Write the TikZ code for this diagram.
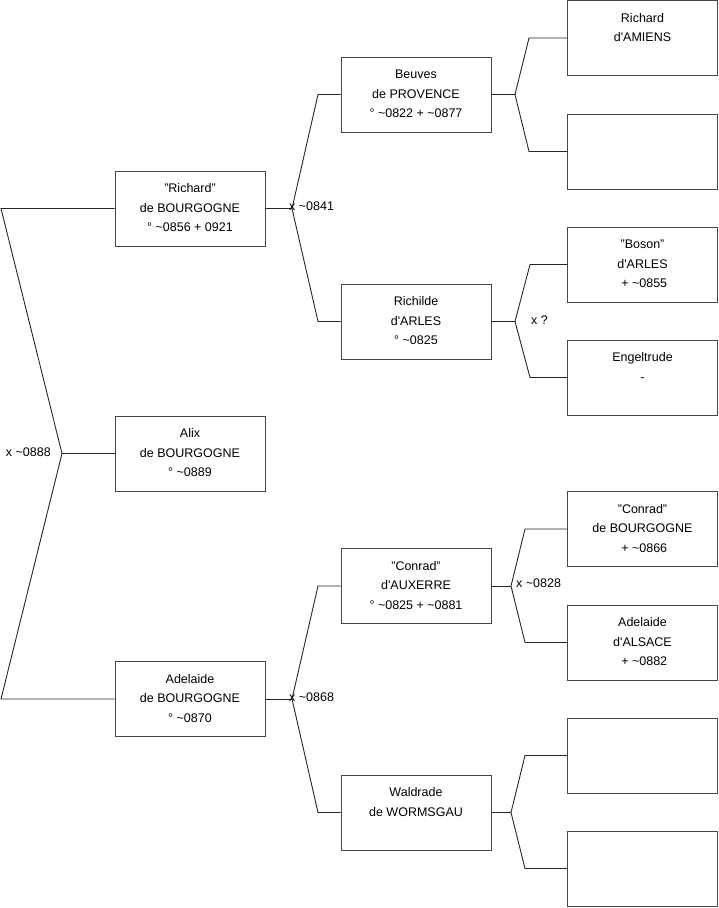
\documentclass[tikz,border=0pt]{standalone}
\usepackage{fontspec}
\setmainfont{Liberation Sans}
\begin{document}
\begin{tikzpicture}[x=1pt,y=-1pt,
  person/.style={draw=black!72, line width=1pt, rectangle, minimum width=150pt, minimum height=75pt,
    inner sep=0pt, align=center, font=\fontsize{12.5}{19.5}\selectfont},
  conn/.style={draw=black!85, line width=0.9pt},
  lbl/.style={inner sep=0pt, font=\fontsize{12.5}{15}\selectfont}]
\useasboundingbox (0,0) rectangle (719,908);
% column 1
\node[person] (R)  at (190,208.5) {\strut"Richard"\\\strut de BOURGOGNE\\\strut° \textasciitilde0856 + 0921};
\node[person] (Al) at (190,453.5) {\strut Alix\\\strut de BOURGOGNE\\\strut° \textasciitilde0889};
\node[person] (Ad) at (190,699)   {\strut Adelaide\\\strut de BOURGOGNE\\\strut° \textasciitilde0870};
% column 2
\node[person] (B)  at (416,94.5)  {\strut Beuves\\\strut de PROVENCE\\\strut° \textasciitilde0822 + \textasciitilde0877};
\node[person] (Ri) at (416,321.5) {\strut Richilde\\\strut d\textquotesingle ARLES\\\strut° \textasciitilde0825};
\node[person] (C)  at (416,586)   {\strut"Conrad"\\\strut d\textquotesingle AUXERRE\\\strut° \textasciitilde0825 + \textasciitilde0881};
\node[person] (W)  at (416,812.5) {\strut Waldrade\\\strut de WORMSGAU\\\strut};
% column 3
\node[person] (RA) at (642.5,38)    {\strut Richard\\\strut d\textquotesingle AMIENS\\\strut};
\node[person] (E1) at (642.5,151.5) {};
\node[person] (Bo) at (642.5,264.5) {\strut"Boson"\\\strut d\textquotesingle ARLES\\\strut\ + \textasciitilde0855};
\node[person] (En) at (642.5,377.5) {\strut Engeltrude\\\strut -\\\strut};
\node[person] (CB) at (642.5,529)   {\strut"Conrad"\\\strut de BOURGOGNE\\\strut\ + \textasciitilde0866};
\node[person] (AA) at (642.5,642.5) {\strut Adelaide\\\strut d\textquotesingle ALSACE\\\strut\ + \textasciitilde0882};
\node[person] (E2) at (642.5,755.5) {};
\node[person] (E3) at (642.5,868.5) {};
% level 0 connector
\coordinate (v0) at (62,453.5);
\coordinate (a0) at (1,208.5);
\coordinate (b0) at (1,699);
\draw[conn] (R.west) -- (a0) -- (v0) -- (b0) -- (Ad.west);
\draw[conn] (v0) -- (Al.west);
\node[lbl, anchor=east] (l0) at (51,452) {x \textasciitilde0888};
% level 1 upper
\coordinate (v1) at (292,208.5);
\coordinate (b1a) at (318,94.5);
\coordinate (b1b) at (318,321.5);
\draw[conn] (R.east) -- (v1);
\draw[conn] (B.west) -- (b1a) -- (v1) -- (b1b) -- (Ri.west);
\node[lbl, anchor=west] (l1) at (289,206.5) {x \textasciitilde0841};
% level 1 lower
\coordinate (v2) at (292,699);
\coordinate (b2a) at (318,586);
\coordinate (b2b) at (318,812.5);
\draw[conn] (Ad.east) -- (v2);
\draw[conn] (C.west) -- (b2a) -- (v2) -- (b2b) -- (W.west);
\node[lbl, anchor=west] (l2) at (289,697) {x \textasciitilde0868};
% level 2: Beuves
\coordinate (v3) at (515,94.5);
\coordinate (b3a) at (529,38);
\coordinate (b3b) at (529,151.5);
\draw[conn] (B.east) -- (v3);
\draw[conn] (RA.west) -- (b3a) -- (v3) -- (b3b) -- (E1.west);
% level 2: Richilde
\coordinate (v4) at (515,321.5);
\coordinate (b4a) at (530,264.5);
\coordinate (b4b) at (530,377.5);
\draw[conn] (Ri.east) -- (v4);
\draw[conn] (Bo.west) -- (b4a) -- (v4) -- (b4b) -- (En.west);
\node[lbl, anchor=west] (l4) at (531,320) {x ?};
% level 2: Conrad
\coordinate (v5) at (511,586);
\coordinate (b5a) at (525,529);
\coordinate (b5b) at (525,642.5);
\draw[conn] (C.east) -- (v5);
\draw[conn] (CB.west) -- (b5a) -- (v5) -- (b5b) -- (AA.west);
\node[lbl, anchor=west] (l5) at (516,583.5) {x \textasciitilde0828};
% level 2: Waldrade
\coordinate (v6) at (511,812.5);
\coordinate (b6a) at (525,755.5);
\coordinate (b6b) at (525,868.5);
\draw[conn] (W.east) -- (v6);
\draw[conn] (E2.west) -- (b6a) -- (v6) -- (b6b) -- (E3.west);
\end{tikzpicture}
\end{document}
